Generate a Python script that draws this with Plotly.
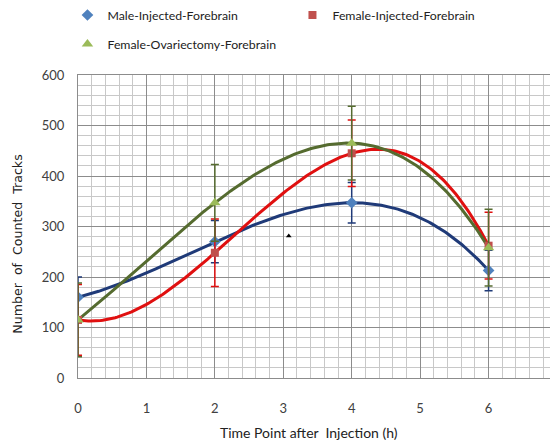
import numpy as np
import plotly.graph_objects as go

time_h = [0, 2, 4, 6]
male_injected = [160, 270, 347, 213]
male_err = [40, 42, 40, 40]
female_injected = [115, 248, 445, 262]
female_err = [70, 67, 66, 66]
female_ovx = [115, 347, 465, 258]
ovx_err = [73, 76, 73, 76]

stray_x = [3.08]
stray_y = [281]

x_ticks = [0, 1, 2, 3, 4, 5, 6, 7]
y_ticks = [0, 100, 200, 300, 400, 500, 600]

series = [
    ("Male-Injected-Forebrain", male_injected, male_err, "#4F81BD", "#1F3A78", "diamond", 9, "legend"),
    ("Female-Injected-Forebrain", female_injected, female_err, "#C0504D", "#E01010", "square", 8, "legend"),
    ("Female-Ovariectomy-Forebrain", female_ovx, ovx_err, "#9BBB59", "#556B2F", "triangle-up", 10, "legend2"),
]

FONT = "Lato"
fig = go.Figure()
xs = np.linspace(min(time_h), max(time_h), 200)
for name, vals, err, mcol, lcol, sym, msz, leg in series:
    coef = np.polyfit(time_h, vals, 3)
    fig.add_trace(go.Scatter(x=xs, y=np.polyval(coef, xs), mode="lines",
                             line=dict(color=lcol, width=3), showlegend=False, hoverinfo="skip"))
for name, vals, err, mcol, lcol, sym, msz, leg in series:
    fig.add_trace(go.Scatter(
        x=time_h, y=vals, mode="markers", name=name, legend=leg,
        marker=dict(symbol=sym, size=msz, color=mcol),
        error_y=dict(type="data", array=err, color=lcol, thickness=1.5, width=4),
    ))
fig.add_trace(go.Scatter(x=stray_x, y=stray_y, mode="markers", showlegend=False,
                         marker=dict(symbol="triangle-up", size=5, color="black"),
                         hoverinfo="skip"))

# The page body adds an 8px offset; the figure is sized/positioned to compensate.
fig.update_layout(
    width=550, height=440,
    margin=dict(l=70, r=1, t=67, b=70, autoexpand=False),
    paper_bgcolor="white", plot_bgcolor="white",
    font=dict(family=FONT, size=13, color="#404040"),
    legend=dict(orientation="h", x=-0.022, y=1.198, xanchor="left", yanchor="middle",
                entrywidth=180, entrywidthmode="pixels", font=dict(size=12.3, color="#222"),
                bgcolor="rgba(0,0,0,0)", itemwidth=30),
    legend2=dict(orientation="h", x=-0.022, y=1.102, xanchor="left", yanchor="middle",
                 font=dict(size=12.3, color="#222"), bgcolor="rgba(0,0,0,0)", itemwidth=30),
    xaxis=dict(range=[0, 7], tickvals=x_ticks, ticktext=[str(v) for v in x_ticks],
               showgrid=True, gridcolor="#8c8c8c", gridwidth=1, automargin=False,
               minor=dict(dtick=0.2, showgrid=True, gridcolor="#c8c8c8", gridwidth=1),
               showline=True, linecolor="#8c8c8c", linewidth=1, mirror=True,
               zeroline=False, ticks="", ticklabelstandoff=18),
    yaxis=dict(range=[0, 600], tickvals=y_ticks, ticktext=[str(v) for v in y_ticks],
               showgrid=True, gridcolor="#8c8c8c", gridwidth=1, automargin=False,
               minor=dict(dtick=20, showgrid=True, gridcolor="#c8c8c8", gridwidth=1),
               showline=True, linecolor="#8c8c8c", linewidth=1, mirror=True,
               zeroline=False, ticks="", ticklabelstandoff=10),
    annotations=[
        dict(text="Time Point after  Injection (h)", xref="paper", yref="paper",
             x=0.483, y=0, yshift=-54, xanchor="center", yanchor="middle",
             showarrow=False, font=dict(family=FONT, size=14, color="#222")),
        dict(text="Number  of  Counted  Tracks", xref="paper", yref="paper",
             x=0, xshift=-60, y=0.44, xanchor="center", yanchor="middle", textangle=-90,
             showarrow=False, font=dict(family="DejaVu Sans", size=12.6, color="#222")),
    ],
)

fig.write_html("out.html")
